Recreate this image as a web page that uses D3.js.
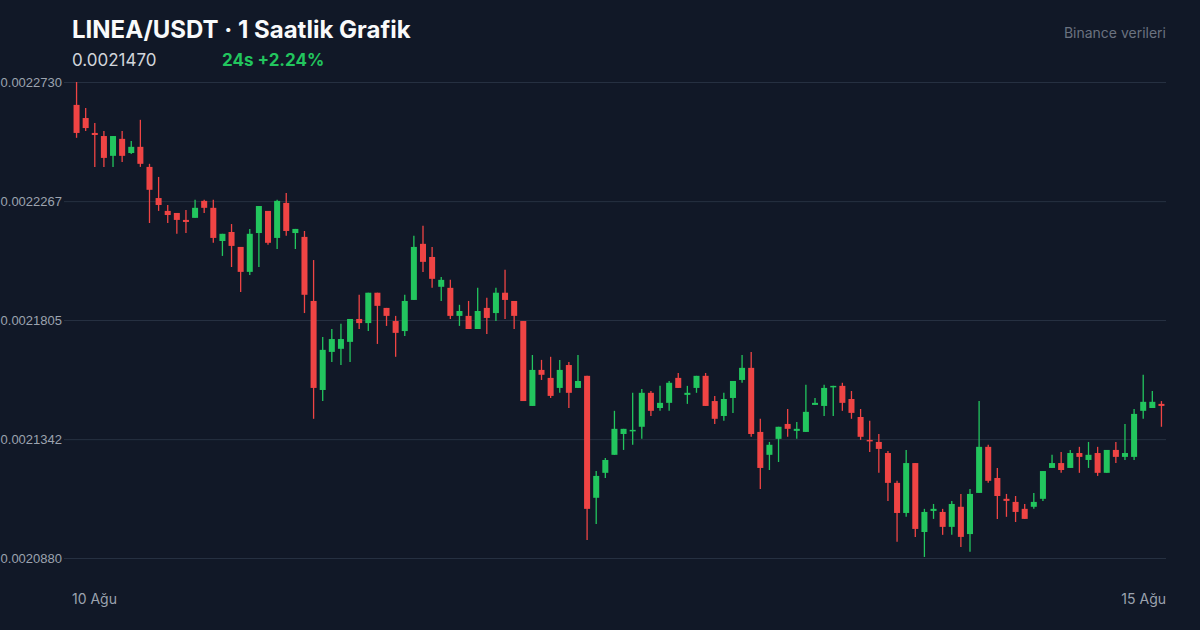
<!DOCTYPE html>
<html><head><meta charset="utf-8">
<script src="https://cdn.jsdelivr.net/npm/d3@7/dist/d3.min.js"></script>
<style>html,body{margin:0;padding:0;background:#111827;}svg{display:block;font-family:Inter,"Noto Sans",sans-serif;}</style>
</head><body><svg id="c" width="1200" height="630"></svg>
<script>
const title = "LINEA/USDT · 1 Saatlik Grafik";
const lastPrice = "0.0021470";
const change = "24s +2.24%";
const source = "Binance verileri";
const xTickLabels = ["10 Ağu", "15 Ağu"];
const yTicks = [0.0022730, 0.0022267, 0.0021805, 0.0021342, 0.0020880];
const openP = [0.0022641,0.0022590,0.0022532,0.0022520,0.0022443,0.0022509,0.0022454,0.0022478,0.0022400,0.0022279,
0.0022229,0.0022221,0.0022194,0.0022202,0.0022268,0.0022241,0.0022112,0.0022147,0.0022089,0.0021992,
0.0022143,0.0022229,0.0022124,0.0022260,0.0022143,0.0022128,0.0021879,0.0021533,0.0021681,0.0021693,
0.0021720,0.0021809,0.0021793,0.0021911,0.0021852,0.0021801,0.0021762,0.0021883,0.0022101,0.0022050,
0.0021934,0.0021930,0.0021821,0.0021821,0.0021770,0.0021852,0.0021832,0.0021911,0.0021879,0.0021801,
0.0021471,0.0021611,0.0021580,0.0021541,0.0021630,0.0021541,0.0021588,0.0021114,0.0021211,0.0021281,
0.0021362,0.0021374,0.0021390,0.0021522,0.0021463,0.0021483,0.0021580,0.0021514,0.0021541,0.0021588,
0.0021490,0.0021432,0.0021502,0.0021572,0.0021619,0.0021370,0.0021281,0.0021343,0.0021401,0.0021374,
0.0021370,0.0021475,0.0021471,0.0021545,0.0021549,0.0021498,0.0021428,0.0021339,0.0021331,0.0021288,
0.0021172,0.0021055,0.0021249,0.0020981,0.0021063,0.0021059,0.0021001,0.0021079,0.0020973,0.0021133,
0.0021312,0.0021191,0.0021110,0.0021098,0.0021071,0.0021079,0.0021110,0.0021230,0.0021249,0.0021230,
0.0021288,0.0021261,0.0021288,0.0021211,0.0021300,0.0021273,0.0021273,0.0021452,0.0021463,0.0021479];
const highP = [0.0022730,0.0022629,0.0022571,0.0022540,0.0022520,0.0022540,0.0022501,0.0022583,0.0022412,0.0022361,
0.0022252,0.0022221,0.0022233,0.0022272,0.0022272,0.0022272,0.0022140,0.0022178,0.0022089,0.0022159,
0.0022248,0.0022229,0.0022272,0.0022299,0.0022159,0.0022151,0.0022038,0.0021739,0.0021770,0.0021790,
0.0021809,0.0021903,0.0021911,0.0021911,0.0021852,0.0021821,0.0021903,0.0022132,0.0022171,0.0022089,
0.0021972,0.0021961,0.0021864,0.0021879,0.0021930,0.0021891,0.0021930,0.0022000,0.0021879,0.0021801,
0.0021669,0.0021650,0.0021662,0.0021650,0.0021642,0.0021669,0.0021588,0.0021218,0.0021269,0.0021452,
0.0021382,0.0021522,0.0021537,0.0021529,0.0021549,0.0021568,0.0021599,0.0021549,0.0021588,0.0021599,
0.0021510,0.0021522,0.0021568,0.0021669,0.0021681,0.0021421,0.0021331,0.0021390,0.0021459,0.0021409,
0.0021553,0.0021502,0.0021553,0.0021549,0.0021561,0.0021529,0.0021459,0.0021413,0.0021362,0.0021296,
0.0021180,0.0021300,0.0021249,0.0021071,0.0021090,0.0021071,0.0021102,0.0021129,0.0021148,0.0021490,
0.0021320,0.0021230,0.0021129,0.0021121,0.0021090,0.0021133,0.0021218,0.0021281,0.0021292,0.0021300,
0.0021312,0.0021331,0.0021312,0.0021300,0.0021331,0.0021401,0.0021459,0.0021592,0.0021529,0.0021490];
const lowP = [0.0022513,0.0022540,0.0022400,0.0022400,0.0022400,0.0022419,0.0022450,0.0022400,0.0022182,0.0022229,
0.0022182,0.0022140,0.0022143,0.0022202,0.0022221,0.0022105,0.0022054,0.0022011,0.0021914,0.0021980,
0.0022011,0.0022097,0.0022081,0.0022132,0.0022081,0.0021832,0.0021421,0.0021490,0.0021642,0.0021630,
0.0021642,0.0021770,0.0021762,0.0021712,0.0021782,0.0021662,0.0021743,0.0021883,0.0021992,0.0021930,
0.0021879,0.0021809,0.0021782,0.0021770,0.0021770,0.0021751,0.0021801,0.0021809,0.0021770,0.0021490,
0.0021471,0.0021572,0.0021502,0.0021522,0.0021463,0.0021541,0.0020950,0.0021012,0.0021191,0.0021281,
0.0021300,0.0021320,0.0021343,0.0021432,0.0021452,0.0021452,0.0021541,0.0021479,0.0021522,0.0021471,
0.0021401,0.0021413,0.0021444,0.0021561,0.0021351,0.0021148,0.0021222,0.0021253,0.0021351,0.0021343,
0.0021370,0.0021475,0.0021432,0.0021432,0.0021452,0.0021421,0.0021339,0.0021292,0.0021211,0.0021102,
0.0020943,0.0021040,0.0020962,0.0020884,0.0021032,0.0020970,0.0020970,0.0020923,0.0020904,0.0021133,
0.0021172,0.0021032,0.0021040,0.0021020,0.0021032,0.0021071,0.0021102,0.0021230,0.0021211,0.0021230,
0.0021211,0.0021230,0.0021199,0.0021211,0.0021249,0.0021261,0.0021261,0.0021421,0.0021463,0.0021390];
const closeP = [0.0022532,0.0022551,0.0022524,0.0022435,0.0022520,0.0022443,0.0022478,0.0022412,0.0022311,0.0022252,
0.0022213,0.0022194,0.0022186,0.0022241,0.0022241,0.0022124,0.0022140,0.0022093,0.0021992,0.0022140,
0.0022248,0.0022105,0.0022268,0.0022151,0.0022159,0.0021903,0.0021541,0.0021689,0.0021731,0.0021731,
0.0021809,0.0021793,0.0021911,0.0021860,0.0021821,0.0021755,0.0021879,0.0022089,0.0022031,0.0021965,
0.0021961,0.0021821,0.0021840,0.0021770,0.0021840,0.0021813,0.0021911,0.0021883,0.0021821,0.0021490,
0.0021611,0.0021592,0.0021510,0.0021611,0.0021522,0.0021568,0.0021071,0.0021199,0.0021261,0.0021382,
0.0021382,0.0021378,0.0021522,0.0021452,0.0021483,0.0021561,0.0021541,0.0021522,0.0021588,0.0021471,
0.0021421,0.0021498,0.0021568,0.0021619,0.0021362,0.0021230,0.0021320,0.0021390,0.0021382,0.0021382,
0.0021448,0.0021483,0.0021541,0.0021549,0.0021483,0.0021444,0.0021351,0.0021335,0.0021304,0.0021172,
0.0021055,0.0021249,0.0020993,0.0021059,0.0021071,0.0021001,0.0021090,0.0020962,0.0021129,0.0021312,
0.0021180,0.0021121,0.0021102,0.0021059,0.0021032,0.0021098,0.0021218,0.0021249,0.0021222,0.0021288,
0.0021273,0.0021281,0.0021211,0.0021300,0.0021273,0.0021288,0.0021440,0.0021487,0.0021487,0.0021471];

(function(){
const svg = d3.select("#c");
const W = 1200, H = 630;
const mL = 72, mR = 1166, mT = 82, mB = 558;
const idx = d3.range(openP.length);
const x = d3.scaleBand().domain(idx).range([mL, mR]).paddingInner(0.34).paddingOuter(0.17);
const y = d3.scaleLinear().domain([yTicks[yTicks.length-1], yTicks[0]]).range([mB, mT]);
const green = "#22c55e", red = "#ef4444";

svg.append("rect").attr("width", W).attr("height", H).attr("fill", "#111827");

const yAxis = d3.axisLeft(y).tickValues(yTicks).tickSize(-(mR - 64)).tickFormat(d => d.toFixed(7));
const gy = svg.append("g").attr("transform", "translate(64,0)").call(yAxis);
gy.select(".domain").remove();
gy.selectAll(".tick line").attr("stroke", "#263041").attr("stroke-width", 1);
gy.selectAll(".tick text").attr("fill", "#9ca3af").attr("font-size", 13).attr("x", -2);

const gc = svg.append("g");
const cx = i => x(i) + x.bandwidth() / 2;
gc.selectAll("line").data(idx).join("line")
  .attr("x1", cx).attr("x2", cx)
  .attr("y1", i => y(highP[i])).attr("y2", i => y(lowP[i]))
  .attr("stroke", i => closeP[i] >= openP[i] ? green : red).attr("stroke-width", 1.3);
gc.selectAll("rect").data(idx).join("rect")
  .attr("x", i => x(i)).attr("width", x.bandwidth())
  .attr("y", i => y(Math.max(openP[i], closeP[i])))
  .attr("height", i => Math.max(1.5, Math.abs(y(openP[i]) - y(closeP[i]))))
  .attr("fill", i => closeP[i] >= openP[i] ? green : red);

svg.append("text").attr("x", 72).attr("y", 38).attr("fill", "#f9fafb").attr("font-size", 24).attr("font-weight", 700).text(title);
svg.append("text").attr("x", 72).attr("y", 66).attr("fill", "#d1d5db").attr("font-size", 17).text(lastPrice);
svg.append("text").attr("x", 222).attr("y", 66).attr("fill", green).attr("font-size", 17).attr("font-weight", 700).text(change);
svg.append("text").attr("x", 1166).attr("y", 38).attr("text-anchor", "end").attr("fill", "#6b7280").attr("font-size", 14).text(source);
svg.append("text").attr("x", 72).attr("y", 604).attr("fill", "#9ca3af").attr("font-size", 14).text(xTickLabels[0]);
svg.append("text").attr("x", 1166).attr("y", 604).attr("text-anchor", "end").attr("fill", "#9ca3af").attr("font-size", 14).text(xTickLabels[1]);
})();
</script></body></html>
